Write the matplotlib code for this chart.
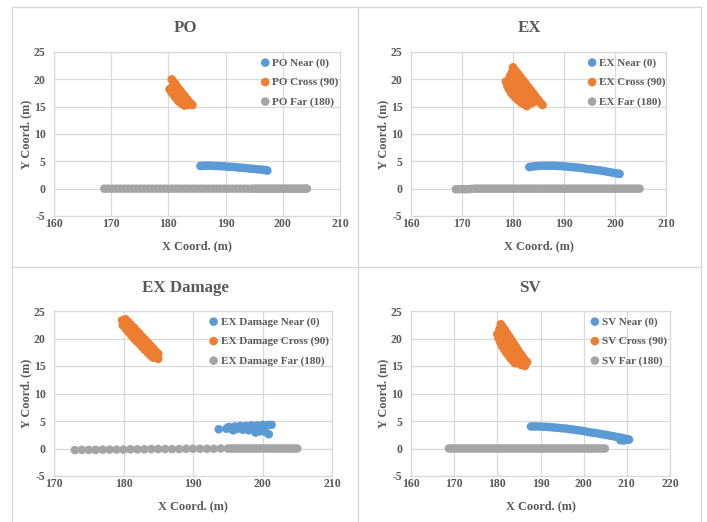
import matplotlib
matplotlib.use("Agg")
import matplotlib.pyplot as plt
from matplotlib.lines import Line2D

plt.rcParams["axes.unicode_minus"] = False

W, H = 707, 522

# ---------------- data ----------------
po_near_x = [185.6, 186.1, 186.6, 187.1, 187.6, 188.1, 188.6, 189.1, 189.6, 190.1, 190.6, 191.1, 191.6,
             192.1, 192.6, 193.1, 193.6, 194.1, 194.6, 195.1, 195.6, 196.1, 196.6, 197.1, 197.3]
po_near_y = [4.15, 4.2, 4.2, 4.2, 4.2, 4.15, 4.15, 4.1, 4.1, 4.05, 4.0, 4.0, 3.95,
             3.9, 3.85, 3.8, 3.75, 3.7, 3.65, 3.6, 3.55, 3.5, 3.45, 3.4, 3.3]
po_cross_x = [180.6, 180.9, 181.2, 181.5, 181.8, 182.1, 182.4, 182.7, 183.0, 183.3, 183.6, 183.9, 184.2,
              180.2, 180.5, 180.8, 181.1, 181.4, 181.7, 182.0, 182.4, 182.8,
              180.7, 181.2, 181.6, 182.0, 182.4, 182.8, 183.2, 183.5]
po_cross_y = [20.0, 19.5, 19.2, 18.7, 18.3, 17.9, 17.5, 17.1, 16.7, 16.3, 15.9, 15.6, 15.3,
              18.2, 17.7, 17.3, 16.9, 16.5, 16.1, 15.8, 15.5, 15.2,
              18.6, 18.0, 17.4, 17.0, 16.5, 16.1, 15.7, 15.3]
po_far_x = [168.8, 169.5, 170.2, 170.9, 171.6, 172.3, 173.0, 173.7, 174.4, 175.1, 175.8, 176.5, 177.2,
            177.9, 178.6, 179.3, 180.0, 180.7, 181.4, 182.1, 182.8, 183.5, 184.2, 184.9, 185.6, 186.3,
            187.0, 187.7, 188.4, 189.1, 189.8, 190.5, 191.2, 191.9, 192.6, 193.3, 194.0, 194.7, 195.2,
            195.6, 196.0, 196.4, 196.8, 197.2, 197.6, 198.0, 198.4, 198.8, 199.2, 199.6, 200.0, 200.4,
            200.8, 201.2, 201.6, 202.0, 202.4, 202.8, 203.2, 203.6, 204.0, 204.2]
po_far_y = [0.0] * len(po_far_x)

ex_near_x = [183.2, 183.8, 184.4, 185.0, 185.6, 186.2, 186.8, 187.4, 188.0, 188.6, 189.2, 189.8, 190.4,
             191.0, 191.6, 192.2, 192.8, 193.4, 194.0, 194.6, 195.2, 195.8, 196.4, 197.0, 197.6, 198.2,
             198.8, 199.4, 200.0, 200.6, 200.9]
ex_near_y = [3.95, 4.05, 4.1, 4.15, 4.2, 4.2, 4.2, 4.2, 4.2, 4.15, 4.15, 4.1, 4.05,
             4.0, 3.95, 3.9, 3.85, 3.8, 3.7, 3.6, 3.55, 3.5, 3.4, 3.35, 3.25, 3.15,
             3.05, 2.95, 2.85, 2.75, 2.7]
ex_cross_x = [180.0, 180.5, 181.0, 181.5, 182.0, 182.5, 183.0, 183.5, 184.0, 184.5, 185.0, 185.5, 185.8,
              178.6, 178.9, 179.2, 179.6, 180.0, 180.5, 181.0, 181.5, 182.0, 182.7,
              179.4, 179.8, 179.8, 180.4, 180.3, 180.9, 181.0, 181.5, 181.6, 182.0, 182.2, 182.5,
              182.7, 183.1, 183.3, 183.7, 184.0, 184.5, 183.5, 182.9, 180.9, 181.3]
ex_cross_y = [22.2, 21.6, 21.0, 20.4, 19.8, 19.2, 18.6, 18.0, 17.4, 16.8, 16.2, 15.6, 15.3,
              19.6, 18.8, 18.2, 17.6, 17.1, 16.6, 16.2, 15.8, 15.5, 15.1,
              20.6, 21.3, 19.8, 19.9, 18.6, 18.9, 17.6, 19.4, 18.1, 16.9, 18.4, 17.4,
              16.2, 17.0, 16.0, 16.6, 15.8, 16.0, 15.6, 17.9, 20.1, 16.8]
ex_far_x = [168.8, 169.4, 170.0, 170.6, 171.2, 171.8, 172.4, 173.0, 173.6, 174.2, 174.8, 175.4, 176.0,
            176.6, 177.2, 177.8, 178.4, 179.0, 179.6, 180.2, 180.8, 181.4, 182.0, 182.6, 183.2, 183.8,
            184.4, 185.0, 185.6, 186.2, 186.8, 187.4, 188.0, 188.6, 189.2, 189.8, 190.4, 191.0, 191.6,
            192.2, 192.8, 193.4, 194.0, 194.6, 195.2, 195.8, 196.4, 197.0, 197.6, 198.2, 198.8, 199.4,
            200.0, 200.6, 201.2, 201.8, 202.4, 203.0, 203.6, 204.2, 204.8]
ex_far_y = [-0.1, -0.1, -0.1, -0.1, -0.1, -0.05, 0.0, 0.0, 0.0, 0.0, 0.0, 0.0, 0.0,
            0.0, 0.0, 0.0, 0.0, 0.0, 0.0, 0.0, 0.0, 0.0, 0.0, 0.0, 0.0, 0.0,
            0.0, 0.0, 0.0, 0.0, 0.0, 0.0, 0.0, 0.0, 0.0, 0.0, 0.0, 0.0, 0.0,
            0.0, 0.0, 0.0, 0.0, 0.0, 0.0, 0.0, 0.0, 0.0, 0.0, 0.0, 0.0, 0.0,
            0.0, 0.0, 0.0, 0.0, 0.0, 0.0, 0.0, 0.0, 0.0]

exd_near_x = [193.7, 194.8, 195.2, 195.6, 196.0, 196.4, 196.8, 197.2, 197.6, 198.0, 198.4, 198.8,
              199.2, 199.6, 200.0, 200.4, 200.8, 201.3,
              195.0, 195.8, 196.6, 197.4, 198.2, 199.0, 199.8, 200.9]
exd_near_y = [3.5, 3.6, 3.9, 3.5, 4.0, 3.6, 4.1, 3.4, 4.1, 3.3, 4.2, 3.4,
              4.2, 3.1, 4.3, 3.0, 4.3, 4.3,
              3.8, 3.3, 3.8, 3.9, 3.7, 2.9, 3.6, 2.6]
exd_cross_x = [179.8, 180.1, 180.4, 180.7, 181.0, 181.3, 181.6, 181.9, 182.2, 182.5, 182.8, 183.1,
               183.4, 183.7, 184.0, 184.3, 184.6, 185.0,
               180.3, 180.7, 181.1, 181.5, 181.9, 182.3, 182.7, 183.1, 183.5, 183.9, 184.3, 184.7, 185.0,
               179.9, 180.3, 180.7, 181.1, 181.5, 181.9, 182.3, 182.7, 183.1, 183.5, 183.9, 184.3]
exd_cross_y = [23.3, 22.9, 22.5, 22.1, 21.7, 21.3, 20.9, 20.5, 20.1, 19.7, 19.3, 18.9,
               18.5, 18.1, 17.7, 17.3, 16.9, 16.3,
               23.5, 23.0, 22.5, 22.0, 21.4, 20.9, 20.3, 19.8, 19.3, 18.7, 18.2, 17.6, 17.2,
               22.4, 21.8, 21.2, 20.6, 20.0, 19.5, 19.0, 18.4, 17.9, 17.4, 16.9, 16.5]
exd_far_x = [173.0, 174.0, 175.0, 176.0, 177.0, 178.0, 179.0, 180.0, 181.0, 182.0, 183.0, 184.0,
             185.0, 186.0, 187.0, 188.0, 189.0, 190.0, 191.0, 192.0, 193.0, 194.0, 195.0, 195.4,
             195.8, 196.2, 196.6, 197.0, 197.4, 197.8, 198.2, 198.6, 199.0, 199.4, 199.8, 200.2,
             200.6, 201.0, 201.4, 201.8, 202.2, 202.6, 203.0, 203.4, 203.8, 204.2, 204.6, 205.0]
exd_far_y = [-0.3, -0.25, -0.25, -0.25, -0.2, -0.2, -0.2, -0.2, -0.15, -0.15, -0.15, -0.1,
             -0.1, -0.1, -0.1, -0.1, -0.05, -0.05, -0.05, -0.05, -0.05, 0.0, 0.0, 0.0,
             0.0, 0.0, 0.0, 0.0, 0.0, 0.0, 0.0, 0.0, 0.0, 0.0, 0.0, 0.0,
             0.0, 0.0, 0.0, 0.0, 0.0, 0.0, 0.0, 0.0, 0.0, 0.0, 0.0, 0.0]

sv_near_x = [187.8, 188.5, 189.2, 189.9, 190.6, 191.3, 192.0, 192.7, 193.4, 194.1, 194.8, 195.5, 196.2,
             196.9, 197.6, 198.3, 199.0, 199.7, 200.4, 201.1, 201.8, 202.5, 203.2, 203.9, 204.6, 205.3,
             206.0, 206.7, 207.4, 208.1, 208.8, 209.5, 210.2, 210.5, 208.5, 209.3]
sv_near_y = [4.0, 4.0, 4.0, 4.0, 3.95, 3.95, 3.9, 3.85, 3.8, 3.75, 3.7, 3.65, 3.6,
             3.5, 3.45, 3.35, 3.3, 3.2, 3.1, 3.0, 2.9, 2.85, 2.75, 2.65, 2.55, 2.45,
             2.35, 2.25, 2.15, 2.05, 1.95, 1.8, 1.7, 1.6, 1.5, 1.45]
sv_cross_x = [180.8, 181.3, 181.8, 182.3, 182.8, 183.3, 183.8, 184.3, 184.8, 185.3, 185.8, 186.3, 186.9,
              180.0, 180.3, 180.7, 181.1, 181.6, 182.1, 182.6, 183.1, 183.6, 184.1, 184.8, 185.5, 186.4,
              180.5, 180.9, 181.4, 181.9, 182.4, 182.9, 183.4, 183.9, 184.4, 184.9, 185.5, 186.0,
              181.2, 182.0, 182.8, 183.6, 184.4, 185.2]
sv_cross_y = [22.6, 22.1, 21.5, 20.9, 20.3, 19.7, 19.1, 18.5, 17.9, 17.3, 16.8, 16.2, 15.7,
              20.8, 20.0, 19.3, 18.6, 18.0, 17.4, 16.9, 16.4, 15.9, 15.5, 15.5, 15.2, 15.0,
              21.7, 21.0, 20.3, 19.7, 19.1, 18.5, 17.9, 17.3, 16.8, 16.3, 15.9, 15.4,
              20.6, 19.3, 18.0, 17.0, 16.0, 16.6]
sv_far_x = [168.8, 169.4, 170.0, 170.6, 171.2, 171.8, 172.4, 173.0, 173.6, 174.2, 174.8, 175.4, 176.0,
            176.6, 177.2, 177.8, 178.4, 179.0, 179.6, 180.2, 180.8, 181.4, 182.0, 182.6, 183.2, 183.8,
            184.4, 185.0, 185.6, 186.2, 186.8, 187.4, 188.0, 188.6, 189.2, 189.8, 190.4, 191.0, 191.6,
            192.2, 192.8, 193.4, 194.0, 194.6, 195.2, 195.8, 196.4, 197.0, 197.6, 198.2, 198.8, 199.4,
            200.0, 200.6, 201.2, 201.8, 202.4, 203.0, 203.6, 204.2, 204.9]
sv_far_y = [0.0] * len(sv_far_x)

panel_titles = ["PO", "EX", "EX Damage", "SV"]
series_names = ["Near (0)", "Cross (90)", "Far (180)"]
x_ticks = [[160, 170, 180, 190, 200, 210],
           [160, 170, 180, 190, 200, 210],
           [170, 180, 190, 200, 210],
           [160, 170, 180, 190, 200, 210, 220]]
y_ticks = [-5, 0, 5, 10, 15, 20, 25]

panel_data = [
    [(po_near_x, po_near_y), (po_cross_x, po_cross_y), (po_far_x, po_far_y)],
    [(ex_near_x, ex_near_y), (ex_cross_x, ex_cross_y), (ex_far_x, ex_far_y)],
    [(exd_near_x, exd_near_y), (exd_cross_x, exd_cross_y), (exd_far_x, exd_far_y)],
    [(sv_near_x, sv_near_y), (sv_cross_x, sv_cross_y), (sv_far_x, sv_far_y)],
]

# ---------------- layout (pixels) ----------------
axes_px = [(54, 52, 340, 216), (411, 52, 666, 216), (54, 311, 332, 476), (411, 311, 670, 476)]
chart_px = [(12, 7, 358, 267), (358, 7, 701, 267), (12, 267, 358, 522), (358, 267, 701, 522)]
legend_anchor = [(0.725, 0.965), (0.695, 0.965), (0.56, 0.965), (0.695, 0.965)]

colors = ["#5B9BD5", "#ED7D31", "#A5A5A5"]
txt = "#595959"
gridc = "#D9D9D9"
FONT = "Liberation Serif"

fig = plt.figure(figsize=(W / 100, H / 100), dpi=100)
fig.patch.set_facecolor("white")


def fx(px):
    return px / W


def fy(py):
    return 1 - py / H


for i in range(4):
    l, t, r, b = axes_px[i]
    ax = fig.add_axes([fx(l), fy(b), fx(r - l), (b - t) / H])
    for j, (xs, ys) in enumerate(panel_data[i]):
        ax.scatter(xs, ys, s=38, color=colors[j], edgecolors="none", zorder=3 + j,
                   label=f"{panel_titles[i]} {series_names[j]}")
    xt = x_ticks[i]
    ax.set_xlim(xt[0], xt[-1])
    ax.set_ylim(-5, 25)
    ax.set_xticks(xt)
    ax.set_yticks(y_ticks)
    ax.grid(True, color=gridc, linewidth=0.9, zorder=0)
    ax.set_axisbelow(True)
    for sp in ax.spines.values():
        sp.set_color(gridc)
        sp.set_linewidth(0.9)
    ax.tick_params(length=0, labelsize=8.5, labelcolor=txt)
    ax.tick_params(axis="x", pad=1.5)
    ax.tick_params(axis="y", pad=6)
    for lab in ax.get_xticklabels() + ax.get_yticklabels():
        lab.set_fontfamily(FONT)
        lab.set_fontweight("bold")
    ax.set_xlabel("X Coord. (m)", fontsize=8.8, fontweight="bold", color=txt, family=FONT, labelpad=7)
    ax.set_ylabel("Y Coord. (m)", fontsize=8.8, fontweight="bold", color=txt, family=FONT, labelpad=1)
    leg = ax.legend(loc="upper left", bbox_to_anchor=legend_anchor[i], frameon=False,
                    prop={"family": FONT, "weight": "bold", "size": 8},
                    handlelength=0.7, handletextpad=0.3, labelspacing=0.85, borderpad=0,
                    borderaxespad=0, markerscale=1.0)
    for tx in leg.get_texts():
        tx.set_color(txt)
    cl, ct, cr, cb = chart_px[i]
    fig.text(fx((cl + cr) / 2), fy(ct + 21), panel_titles[i], ha="center", va="center",
             fontsize=12.2, fontweight="bold", color=txt, family=FONT)

# chart borders
border = "#D9D9D9"
fig.add_artist(Line2D([fx(12), fx(701)], [fy(7), fy(7)], color=border, lw=1))
fig.add_artist(Line2D([fx(12), fx(701)], [fy(267), fy(267)], color=border, lw=1))
fig.add_artist(Line2D([fx(12), fx(12)], [fy(7), fy(522)], color=border, lw=1))
fig.add_artist(Line2D([fx(358), fx(358)], [fy(7), fy(522)], color=border, lw=1))
fig.add_artist(Line2D([fx(701), fx(701)], [fy(7), fy(522)], color=border, lw=1))

fig.savefig("out.png", dpi=100, facecolor="white")
